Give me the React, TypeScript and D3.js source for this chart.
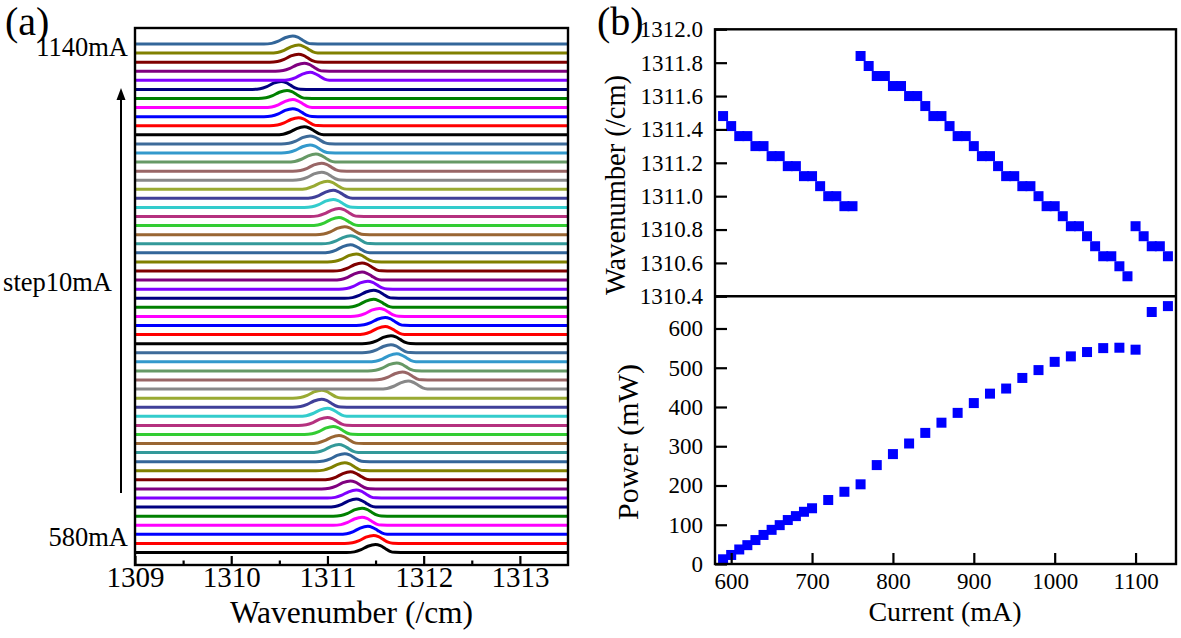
import * as d3 from "d3";
import { useEffect, useRef } from "react";

// (a) spectra: one trace per current, peak position
const spectraCurrents = [
  580, 590, 600, 610, 620, 630, 640, 650, 660, 670, 680, 690, 700, 710, 720,
  730, 740, 750, 760, 770, 780, 790, 800, 810, 820, 830, 840, 850, 860, 870,
  880, 890, 900, 910, 920, 930, 940, 950, 960, 970, 980, 990, 1000, 1010, 1020,
  1030, 1040, 1050, 1060, 1070, 1080, 1090, 1100, 1110, 1120, 1130, 1140,
];

// (b) top: wavenumber vs current
const wnCurrents = spectraCurrents.slice(1);
const wnValues = [
  1311.48, 1311.42, 1311.36, 1311.36, 1311.3, 1311.3, 1311.24, 1311.24, 1311.18,
  1311.18, 1311.12, 1311.12, 1311.06, 1311.0, 1311.0, 1310.94, 1310.94,
  1311.84, 1311.78, 1311.72, 1311.72, 1311.66, 1311.66, 1311.6, 1311.6, 1311.54,
  1311.48, 1311.48, 1311.42, 1311.36, 1311.36, 1311.3, 1311.24, 1311.24, 1311.18,
  1311.12, 1311.12, 1311.06, 1311.06, 1311.0, 1310.94, 1310.94, 1310.88, 1310.82,
  1310.82, 1310.76, 1310.7, 1310.64, 1310.64, 1310.58, 1310.52,
  1310.82, 1310.76, 1310.7, 1310.7, 1310.64,
];
// the 580mA trace only appears in (a)
const spectraPeaks = [1311.5, ...wnValues];

// (b) bottom: power vs current
const powerCurrents = [
  590, 600, 610, 620, 630, 640, 650, 660, 670, 680, 690, 700, 720, 740, 760, 780,
  800, 820, 840, 860, 880, 900, 920, 940, 960, 980, 1000, 1020, 1040, 1060, 1080,
  1100, 1120, 1140,
];
const powerValues = [
  12, 23, 37, 48, 61, 74, 87, 99, 112, 122, 133, 142, 163, 184, 203, 252, 280,
  307, 334, 360, 385, 410, 434, 447, 474, 494, 515, 529, 540, 550, 551, 546, 642,
  657,
];

// peak shape: [offset in /cm, relative height]
const peakProfile: [number, number][] = [
  [-0.3, 0], [-0.22, 0.08], [-0.15, 0.35], [-0.08, 0.78], [0, 1],
  [0.05, 0.85], [0.1, 0.5], [0.15, 0.15], [0.2, 0.02], [0.26, 0],
];

const traceColors = [
  "#000000", "#ff0000", "#0000ff", "#ff00ff", "#008000", "#000080", "#8000ff",
  "#800080", "#800000", "#808000", "#336699", "#339999", "#996633", "#33cc33",
  "#b5317f", "#33cccc", "#404099", "#99aa33", "#888888", "#996666", "#669966",
  "#3399cc", "#3d6b99",
];

const aTicks = [1309, 1310, 1311, 1312, 1313];
const aMinorTicks = [1309.5, 1310.5, 1311.5, 1312.5];
const bCurrentTicks = [600, 700, 800, 900, 1000, 1100];
const bWnTicks = [1310.4, 1310.6, 1310.8, 1311.0, 1311.2, 1311.4, 1311.6, 1311.8, 1312.0];
const bPowerTicks = [0, 100, 200, 300, 400, 500, 600];

const FONT = "'Liberation Serif', 'Times New Roman', serif";

const App = () => {
  const ref = useRef<SVGSVGElement | null>(null);

  useEffect(() => {
    const svg = d3.select(ref.current);
    svg.selectAll("*").remove();

    // ---------- panel (a) ----------
    const aLeft = 135, aRight = 568, aTop = 28, aBottom = 565;
    const ax = d3.scaleLinear().domain([1309, 1313.5]).range([aLeft, aRight]);
    const aBase = d3.scaleLinear().domain([580, 1140]).range([552.5, 44]);
    const peakPx = 8;

    svg.append("defs").append("clipPath").attr("id", "clipA")
      .append("rect")
      .attr("x", aLeft).attr("y", aTop)
      .attr("width", aRight - aLeft).attr("height", aBottom - aTop);

    const traces = svg.append("g").attr("clip-path", "url(#clipA)");
    spectraCurrents.forEach((c, i) => {
      const base = aBase(c);
      const pts: [number, number][] = [
        [1309, 0],
        ...peakProfile.map(([dx, h]) => [spectraPeaks[i] + dx, h] as [number, number]),
        [1313.5, 0],
      ];
      const line = d3.line<[number, number]>()
        .x((d) => ax(d[0]))
        .y((d) => base - d[1] * peakPx)
        .curve(d3.curveMonotoneX);
      traces.append("path")
        .attr("d", line(pts))
        .attr("fill", "none")
        .attr("stroke", traceColors[i % traceColors.length])
        .attr("stroke-width", 3);
    });

    svg.append("rect")
      .attr("x", aLeft).attr("y", aTop)
      .attr("width", aRight - aLeft).attr("height", aBottom - aTop)
      .attr("fill", "none").attr("stroke", "#000").attr("stroke-width", 2.4);

    const aAxis = svg.append("g").attr("transform", `translate(0,${aBottom})`);
    aAxis.call(
      d3.axisBottom(ax).tickValues(aTicks).tickSizeInner(-9).tickSizeOuter(0)
        .tickPadding(1).tickFormat(d3.format("d"))
    );
    aAxis.select(".domain").remove();
    aAxis.selectAll("line").attr("stroke-width", 2.2);
    aAxis.selectAll("text")
      .style("font-family", FONT).style("font-size", "29px").attr("fill", "#000");

    const aMinor = svg.append("g").attr("transform", `translate(0,${aBottom})`);
    aMinor.call(
      d3.axisBottom(ax).tickValues(aMinorTicks).tickSizeInner(-4.5)
        .tickSizeOuter(0).tickFormat(() => "")
    );
    aMinor.select(".domain").remove();
    aMinor.selectAll("line").attr("stroke-width", 2.2);

    svg.append("text")
      .attr("x", (aLeft + aRight) / 2).attr("y", 623)
      .attr("text-anchor", "middle")
      .style("font-family", FONT).style("font-size", "31.5px")
      .text("Wavenumber (/cm)");

    const sideLabel = (txt: string, x: number, y: number) =>
      svg.append("text")
        .attr("x", x).attr("y", y).attr("text-anchor", "end")
        .style("font-family", FONT).style("font-size", "26.5px")
        .text(txt);
    sideLabel("1140mA", 128, 56);
    sideLabel("step10mA", 112, 291);
    sideLabel("580mA", 128, 546);

    svg.append("line")
      .attr("x1", 121).attr("x2", 121).attr("y1", 493).attr("y2", 98)
      .attr("stroke", "#000").attr("stroke-width", 2);
    svg.append("path")
      .attr("d", "M121,88 L116.5,100 L125.5,100 Z")
      .attr("fill", "#000");

    svg.append("text")
      .attr("x", 5).attr("y", 35)
      .style("font-family", FONT).style("font-size", "40px")
      .text("(a)");

    // ---------- panel (b) ----------
    const bLeft = 715, bRight = 1176, bTop = 29.3, bMid = 296.3, bBottom = 564;
    const bx = d3.scaleLinear().domain([580, 1150]).range([bLeft, bRight]);
    const byTop = d3.scaleLinear().domain([1310.4, 1312]).range([bMid, bTop]);
    const byBot = d3.scaleLinear().domain([0, 682]).range([bBottom, bMid]);
    const sq = 10;

    svg.append("defs").append("clipPath").attr("id", "clipB")
      .append("rect")
      .attr("x", bLeft).attr("y", bTop)
      .attr("width", bRight - bLeft).attr("height", bBottom - bTop);

    const pts = svg.append("g").attr("clip-path", "url(#clipB)");
    pts.selectAll("rect.wn")
      .data(wnCurrents.map((c, i) => ({ c, v: wnValues[i] })))
      .enter().append("rect")
      .attr("class", "wn")
      .attr("x", (d) => bx(d.c) - sq / 2)
      .attr("y", (d) => byTop(d.v) - sq / 2)
      .attr("width", sq).attr("height", sq)
      .attr("fill", "#0000ff");
    pts.selectAll("rect.pw")
      .data(powerCurrents.map((c, i) => ({ c, v: powerValues[i] })))
      .enter().append("rect")
      .attr("class", "pw")
      .attr("x", (d) => bx(d.c) - sq / 2)
      .attr("y", (d) => byBot(d.v) - sq / 2)
      .attr("width", sq).attr("height", sq)
      .attr("fill", "#0000ff");

    svg.append("rect")
      .attr("x", bLeft).attr("y", bTop)
      .attr("width", bRight - bLeft).attr("height", bBottom - bTop)
      .attr("fill", "none").attr("stroke", "#000").attr("stroke-width", 2.4);
    svg.append("line")
      .attr("x1", bLeft).attr("x2", bRight).attr("y1", bMid).attr("y2", bMid)
      .attr("stroke", "#000").attr("stroke-width", 2.4);

    const styleAxis = (g: d3.Selection<SVGGElement, unknown, null, undefined>) => {
      g.select(".domain").remove();
      g.selectAll("line").attr("stroke-width", 2.2);
      g.selectAll("text")
        .style("font-family", FONT).style("font-size", "23px").attr("fill", "#000");
    };

    const yTopAxis = svg.append("g").attr("transform", `translate(${bLeft},0)`);
    yTopAxis.call(
      d3.axisLeft(byTop).tickValues(bWnTicks).tickSizeInner(-12).tickSizeOuter(0)
        .tickPadding(12).tickFormat(d3.format(".1f"))
    );
    styleAxis(yTopAxis);

    const yBotAxis = svg.append("g").attr("transform", `translate(${bLeft},0)`);
    yBotAxis.call(
      d3.axisLeft(byBot).tickValues(bPowerTicks).tickSizeInner(-12).tickSizeOuter(0)
        .tickPadding(12).tickFormat(d3.format("d"))
    );
    styleAxis(yBotAxis);

    const xAxis = svg.append("g").attr("transform", `translate(0,${bBottom})`);
    xAxis.call(
      d3.axisBottom(bx).tickValues(bCurrentTicks).tickSizeInner(-11).tickSizeOuter(0)
        .tickPadding(9).tickFormat(d3.format("d"))
    );
    styleAxis(xAxis);

    svg.append("text")
      .attr("x", 945).attr("y", 621)
      .attr("text-anchor", "middle")
      .style("font-family", FONT).style("font-size", "28px")
      .text("Current (mA)");

    svg.append("text")
      .attr("transform", `translate(625,185) rotate(-90)`)
      .attr("text-anchor", "middle")
      .style("font-family", FONT).style("font-size", "28.5px")
      .text("Wavenumber (/cm)");

    svg.append("text")
      .attr("transform", `translate(638,442) rotate(-90)`)
      .attr("text-anchor", "middle")
      .style("font-family", FONT).style("font-size", "30px")
      .text("Power (mW)");

    svg.append("text")
      .attr("x", 597).attr("y", 35)
      .style("font-family", FONT).style("font-size", "40px")
      .text("(b)");
  }, []);

  return (
    <svg
      ref={ref}
      width={1181}
      height={638}
      style={{ position: "absolute", left: 0, top: 0, background: "#fff" }}
    ></svg>
  );
};

export default App;
